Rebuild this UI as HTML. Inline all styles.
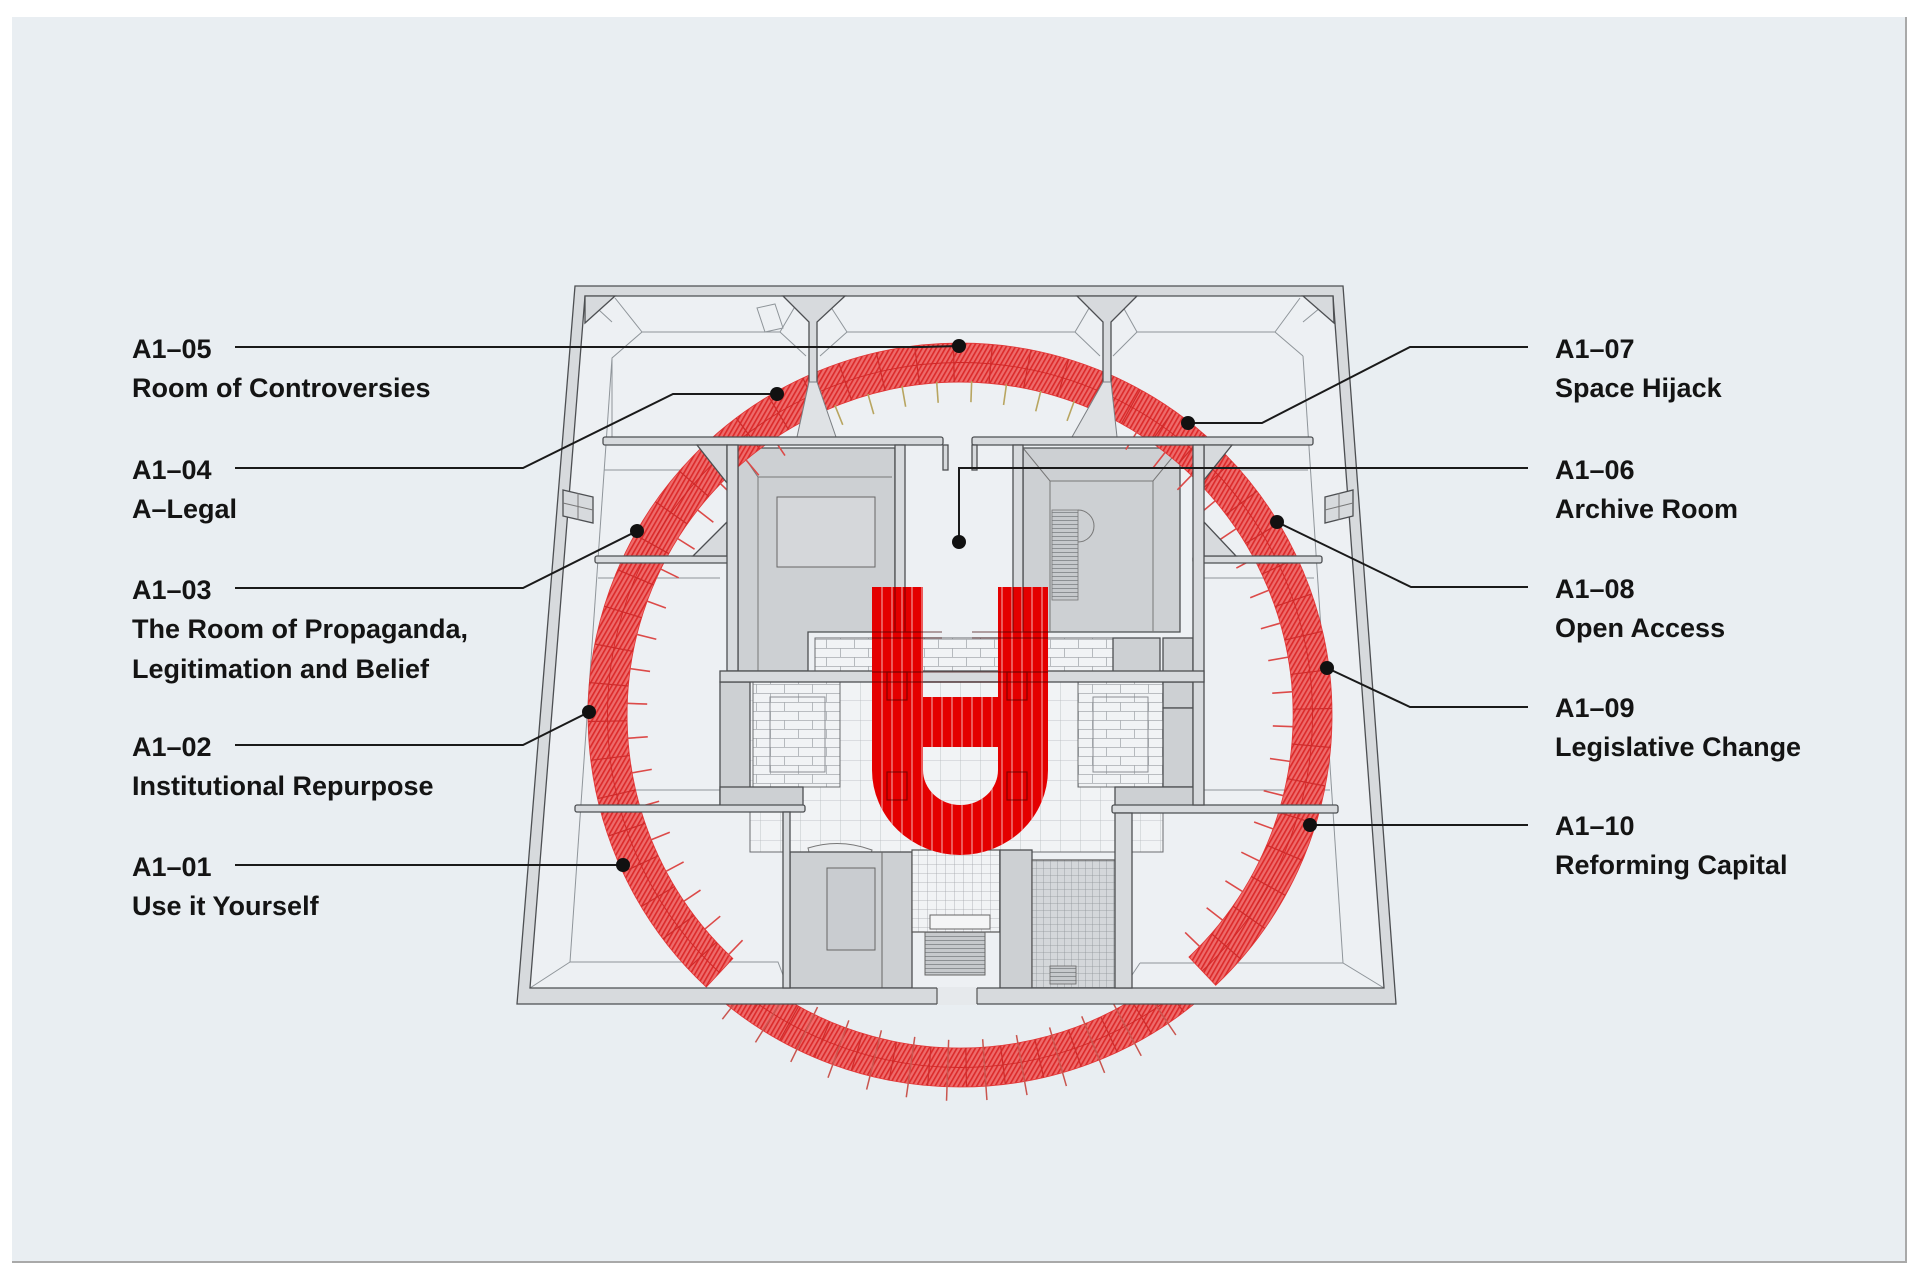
<!DOCTYPE html>
<html>
<head>
<meta charset="utf-8">
<style>
html,body{margin:0;padding:0;background:#fff;}
body{width:1920px;height:1280px;overflow:hidden;}
svg{display:block;}
.w{fill:#d7dadd;stroke:#4d4f52;stroke-width:1.3;}
.g{fill:#cdd0d3;stroke:#4d4f52;stroke-width:1.3;}
.t{fill:none;stroke:#8f959a;stroke-width:1;}
.lbl{font-family:"Liberation Sans",Arial,sans-serif;font-weight:bold;font-size:27px;fill:#141414;}
.cn{fill:none;stroke:#1a1a1a;stroke-width:2;}
</style>
</head>
<body>
<svg width="1920" height="1280" viewBox="0 0 1920 1280" xmlns="http://www.w3.org/2000/svg">
<defs>
  <pattern id="hatch" width="4" height="4" patternUnits="userSpaceOnUse" patternTransform="rotate(30)">
    <rect width="4" height="4" fill="#ee6b6b"/>
    <line x1="0.8" y1="0" x2="0.8" y2="4" stroke="#dc2a2a" stroke-width="1.7"/>
  </pattern>
  <pattern id="grid" width="9" height="9" patternUnits="userSpaceOnUse">
    <rect width="9" height="9" fill="#f1f3f5"/>
    <path d="M9 0 L0 0 0 9" fill="none" stroke="#a3a7ab" stroke-width="0.8"/>
  </pattern>
  <pattern id="grid2" width="7" height="7" patternUnits="userSpaceOnUse">
    <rect width="7" height="7" fill="#d4d7da"/>
    <path d="M7 0 L0 0 0 7" fill="none" stroke="#8f9498" stroke-width="0.8"/>
  </pattern>
  <pattern id="bigtile" width="20" height="20" patternUnits="userSpaceOnUse">
    <rect width="20" height="20" fill="#f1f3f5"/>
    <path d="M20 0 L0 0 0 20" fill="none" stroke="#b4b8bc" stroke-width="0.8"/>
  </pattern>
  <pattern id="brick" width="28" height="18" patternUnits="userSpaceOnUse">
    <rect width="28" height="18" fill="#f1f3f5"/>
    <path d="M0 0.5H28 M0 9.5H28 M0.5 0V9 M14.5 9V18" fill="none" stroke="#a8acb0" stroke-width="0.8"/>
  </pattern>
  <pattern id="stairs" width="10" height="4" patternUnits="userSpaceOnUse">
    <rect width="10" height="4" fill="#c6c9cc"/>
    <line x1="0" y1="0.5" x2="10" y2="0.5" stroke="#7d8185" stroke-width="0.8"/>
  </pattern>
  <clipPath id="ringclip">
    <path d="M706.3,987.1 A372,372 0 1 1 1215.7,985.3 L1188.9,957.0 A333,333 0 1 0 732.9,958.5 Z"/>
    <path d="M1195.5,1003 A372,372 0 0 1 724.5,1003 L792.8,1003 A333,333 0 0 0 1127.2,1003 Z"/>
  </clipPath>
  <clipPath id="botclip"><rect x="0" y="1003" width="1920" height="277"/></clipPath>
  <clipPath id="uclip">
    <path d="M872,587 V770 A88,85 0 0 0 1048,770 V587 H998 V770 A37.5,35 0 0 1 923,770 V587 Z"/>
    <rect x="923" y="697" width="75" height="50"/>
  </clipPath>
  <line id="tk" x1="313" y1="0" x2="334" y2="0"/>
  <line id="tb" x1="325" y1="0" x2="386" y2="0"/>
  <line id="sg" x1="333" y1="0" x2="372" y2="0"/>
</defs>

<!-- page -->
<rect width="1920" height="1280" fill="#ffffff"/>
<rect x="12" y="17" width="1894" height="1245" fill="#e9eef2"/>
<line x1="1906" y1="17" x2="1906" y2="1263" stroke="#a9a9a9" stroke-width="2"/>
<line x1="12" y1="1262" x2="1907" y2="1262" stroke="#a9a9a9" stroke-width="2"/>

<!-- building floor -->
<polygon points="575,286 1343,286 1396,1004 517,1004" fill="#edf0f3"/>

<!-- perspective thin lines -->
<g class="t">
  <path d="M612,437 V358 L642,332 H780 L806,356"/>
  <path d="M820,356 L847,332 H1075 L1100,356"/>
  <path d="M1113,356 L1137,332 H1275 L1303,356"/>
  <path d="M612,358 L570,962"/>
  <path d="M1303,356 L1343,963"/>
  <path d="M570,962 H778 L783,975 M570,962 L530,988"/>
  <path d="M1140,963 H1343 L1384,988 M1140,963 L1132,975"/>
  <path d="M604,470 H700 M1204,470 H1308"/>
  <path d="M598,578 H720 M1204,578 H1314"/>
  <path d="M586,298 L612,322 M1332,298 L1303,322"/>
  <path d="M757,308 L775,304 L783,328 L765,332 Z"/>
  <path d="M600,790 H720 M1204,790 H1330"/>
  <path d="M642,332 L615,298 M780,332 L800,298 M847,332 L825,298 M1075,332 L1095,298 M1137,332 L1118,298 M1275,332 L1300,298"/>
</g>

<!-- central light regions -->
<rect x="750" y="682" width="413" height="170" fill="url(#bigtile)" stroke="#6a6d70" stroke-width="1"/>
<rect x="753" y="682" width="87" height="105" fill="url(#brick)" stroke="#6a6d70" stroke-width="1"/>
<rect x="1078" y="682" width="85" height="105" fill="url(#brick)" stroke="#6a6d70" stroke-width="1"/>
<rect x="770" y="697" width="55" height="75" fill="none" stroke="#8a8e92" stroke-width="1"/>
<rect x="1093" y="697" width="55" height="75" fill="none" stroke="#8a8e92" stroke-width="1"/>
<rect x="815" y="638" width="298" height="33" fill="url(#brick)" stroke="#6a6d70" stroke-width="1"/>
<path d="M808,848 Q840,838 872,850 L868,864 Q840,855 812,864 Z" fill="#eceef0" stroke="#777" stroke-width="1"/>

<!-- gray blocks -->
<polygon class="g" points="738,448 895,448 895,632 808,632 808,671 738,671"/>
<path d="M738,448 L758,477 H892 M758,477 V671" class="t" style="stroke:#777"/>
<rect x="777" y="497" width="98" height="70" fill="#d5d7da" stroke="#666" stroke-width="1"/>
<polygon class="g" points="1023,448 1180,448 1180,632 1023,632"/>
<path d="M1023,448 L1050,481 H1153 L1180,448 M1050,481 V632 M1153,481 V632" class="t" style="stroke:#777"/>
<rect x="1052" y="510" width="26" height="90" fill="url(#stairs)" stroke="#777" stroke-width="0.8"/>
<path d="M1078,510 A16,16 0 0 1 1078,542" fill="none" stroke="#777" stroke-width="1"/>
<rect x="1113" y="638" width="47" height="34" class="g"/>
<rect x="1163" y="638" width="30" height="34" class="g"/>
<rect x="1163" y="682" width="30" height="26" class="g"/>
<rect x="1163" y="708" width="30" height="79" class="g"/>
<rect x="720" y="682" width="30" height="123" class="g"/>
<rect x="720" y="787" width="83" height="20" class="g"/>
<rect x="1115" y="787" width="85" height="20" class="g"/>

<!-- lower center -->
<rect x="790" y="852" width="122" height="136" class="g"/>
<rect x="827" y="868" width="48" height="82" fill="#c9ccd0" stroke="#666" stroke-width="1"/>
<path d="M882,852 V988" class="t" style="stroke:#666"/>
<rect x="912" y="850" width="88" height="82" fill="url(#grid)" stroke="#555" stroke-width="1.2"/>
<rect x="930" y="915" width="60" height="14" fill="#f4f5f6" stroke="#666" stroke-width="1"/>
<rect x="925" y="932" width="60" height="43" fill="url(#stairs)" stroke="#666" stroke-width="1"/>
<rect x="1000" y="850" width="32" height="138" class="g"/>
<rect x="1032" y="860" width="83" height="128" fill="url(#grid2)" stroke="#555" stroke-width="1.2"/>
<rect x="1050" y="966" width="26" height="18" fill="url(#stairs)" stroke="#666" stroke-width="0.8"/>

<!-- RING -->
<path d="M706.3,987.1 A372,372 0 1 1 1215.7,985.3 L1188.9,957.0 A333,333 0 1 0 732.9,958.5 Z" fill="url(#hatch)" stroke="#e03535" stroke-width="0.8"/>
<path d="M1195.5,1003 A372,372 0 0 1 724.5,1003 L792.8,1003 A333,333 0 0 0 1127.2,1003 Z" fill="url(#hatch)" stroke="#e03535" stroke-width="0.8"/>
<g clip-path="url(#ringclip)">
  <circle cx="960" cy="715" r="352.5" fill="none" stroke="#d02626" stroke-width="0.9"/>
  <g transform="translate(960,715)" stroke="#cf2a2a" stroke-width="1.2">
    <use href="#sg" transform="rotate(137)"/><use href="#sg" transform="rotate(143)"/><use href="#sg" transform="rotate(149)"/><use href="#sg" transform="rotate(155)"/><use href="#sg" transform="rotate(161)"/><use href="#sg" transform="rotate(167)"/><use href="#sg" transform="rotate(173)"/><use href="#sg" transform="rotate(179)"/><use href="#sg" transform="rotate(185)"/><use href="#sg" transform="rotate(191)"/><use href="#sg" transform="rotate(197)"/><use href="#sg" transform="rotate(203)"/><use href="#sg" transform="rotate(209)"/><use href="#sg" transform="rotate(215)"/><use href="#sg" transform="rotate(221)"/><use href="#sg" transform="rotate(227)"/><use href="#sg" transform="rotate(233)"/><use href="#sg" transform="rotate(239)"/><use href="#sg" transform="rotate(245)"/><use href="#sg" transform="rotate(251)"/><use href="#sg" transform="rotate(257)"/><use href="#sg" transform="rotate(263)"/><use href="#sg" transform="rotate(269)"/><use href="#sg" transform="rotate(275)"/><use href="#sg" transform="rotate(281)"/><use href="#sg" transform="rotate(287)"/><use href="#sg" transform="rotate(293)"/><use href="#sg" transform="rotate(299)"/><use href="#sg" transform="rotate(305)"/><use href="#sg" transform="rotate(311)"/><use href="#sg" transform="rotate(317)"/><use href="#sg" transform="rotate(323)"/><use href="#sg" transform="rotate(329)"/><use href="#sg" transform="rotate(335)"/><use href="#sg" transform="rotate(341)"/><use href="#sg" transform="rotate(347)"/><use href="#sg" transform="rotate(353)"/><use href="#sg" transform="rotate(359)"/><use href="#sg" transform="rotate(365)"/><use href="#sg" transform="rotate(371)"/><use href="#sg" transform="rotate(377)"/><use href="#sg" transform="rotate(383)"/><use href="#sg" transform="rotate(389)"/><use href="#sg" transform="rotate(395)"/><use href="#sg" transform="rotate(401)"/>
    <use href="#sg" transform="rotate(53)"/><use href="#sg" transform="rotate(59)"/><use href="#sg" transform="rotate(65)"/><use href="#sg" transform="rotate(71)"/><use href="#sg" transform="rotate(77)"/><use href="#sg" transform="rotate(83)"/><use href="#sg" transform="rotate(89)"/><use href="#sg" transform="rotate(95)"/><use href="#sg" transform="rotate(101)"/><use href="#sg" transform="rotate(107)"/><use href="#sg" transform="rotate(113)"/><use href="#sg" transform="rotate(119)"/><use href="#sg" transform="rotate(125)"/>
  </g>
</g>
<!-- inner ticks -->
<g transform="translate(960,715)" stroke="#dc4a48" stroke-width="1.6">
  <use href="#tk" transform="rotate(134)"/><use href="#tk" transform="rotate(140)"/><use href="#tk" transform="rotate(146)"/><use href="#tk" transform="rotate(152)"/><use href="#tk" transform="rotate(158)"/><use href="#tk" transform="rotate(164)"/><use href="#tk" transform="rotate(170)"/><use href="#tk" transform="rotate(176)"/><use href="#tk" transform="rotate(182)"/><use href="#tk" transform="rotate(188)"/><use href="#tk" transform="rotate(194)"/><use href="#tk" transform="rotate(200)"/><use href="#tk" transform="rotate(206)"/><use href="#tk" transform="rotate(212)"/><use href="#tk" transform="rotate(218)"/><use href="#tk" transform="rotate(224)"/><use href="#tk" transform="rotate(230)"/><use href="#tk" transform="rotate(236)"/>
  <g stroke="#b8a560">
  <use href="#tk" transform="rotate(242)"/><use href="#tk" transform="rotate(248)"/><use href="#tk" transform="rotate(254)"/><use href="#tk" transform="rotate(260)"/><use href="#tk" transform="rotate(266)"/><use href="#tk" transform="rotate(272)"/><use href="#tk" transform="rotate(278)"/><use href="#tk" transform="rotate(284)"/><use href="#tk" transform="rotate(290)"/><use href="#tk" transform="rotate(296)"/>
  </g>
  <use href="#tk" transform="rotate(302)"/><use href="#tk" transform="rotate(308)"/><use href="#tk" transform="rotate(314)"/><use href="#tk" transform="rotate(320)"/><use href="#tk" transform="rotate(326)"/><use href="#tk" transform="rotate(332)"/><use href="#tk" transform="rotate(338)"/><use href="#tk" transform="rotate(344)"/><use href="#tk" transform="rotate(350)"/><use href="#tk" transform="rotate(356)"/><use href="#tk" transform="rotate(362)"/><use href="#tk" transform="rotate(368)"/><use href="#tk" transform="rotate(374)"/><use href="#tk" transform="rotate(380)"/><use href="#tk" transform="rotate(386)"/><use href="#tk" transform="rotate(392)"/><use href="#tk" transform="rotate(398)"/><use href="#tk" transform="rotate(404)"/>
</g>
<!-- bottom ticks -->
<g clip-path="url(#botclip)">
<g transform="translate(960,715)" stroke="#c9554f" stroke-width="1.5">
  <use href="#tb" transform="rotate(56)"/><use href="#tb" transform="rotate(62)"/><use href="#tb" transform="rotate(68)"/><use href="#tb" transform="rotate(74)"/><use href="#tb" transform="rotate(80)"/><use href="#tb" transform="rotate(86)"/><use href="#tb" transform="rotate(92)"/><use href="#tb" transform="rotate(98)"/><use href="#tb" transform="rotate(104)"/><use href="#tb" transform="rotate(110)"/><use href="#tb" transform="rotate(116)"/><use href="#tb" transform="rotate(122)"/><use href="#tb" transform="rotate(128)"/>
</g>
</g>

<!-- WALLS (over ring) -->
<path class="w" fill-rule="evenodd" d="M575,286 L1343,286 L1396,1004 L517,1004 Z M585,296 L530,988 L1384,988 L1333,296 Z"/>
<rect x="937" y="987" width="40" height="18" fill="#e6e9ec"/>
<path d="M937,988 V1004 M977,988 V1004" stroke="#555" stroke-width="1.2"/>
<polygon class="w" points="585,296 615,296 585,323"/>
<polygon class="w" points="1333,296 1303,296 1334,323"/>
<!-- top vertical walls -->
<polygon class="w" points="783,296 845,296 817,322 817,437 809,437 809,322"/>
<polygon points="809,382 817,382 836,437 797,437" fill="#dfe2e5" stroke="#7a7e82" stroke-width="1"/>
<polygon class="w" points="1077,296 1137,296 1111,322 1111,437 1103,437 1103,322"/>
<polygon points="1103,382 1111,382 1117,437 1072,437" fill="#dfe2e5" stroke="#7a7e82" stroke-width="1"/>
<!-- horizontal walls -->
<rect class="w" x="603" y="437" width="340" height="8" rx="2"/>
<rect class="w" x="972" y="437" width="341" height="8" rx="2"/>
<rect class="w" x="595" y="556" width="135" height="7" rx="2"/>
<rect class="w" x="1193" y="556" width="129" height="7" rx="2"/>
<rect class="w" x="575" y="805" width="230" height="7" rx="2"/>
<rect class="w" x="1112" y="805" width="226" height="8" rx="2"/>
<!-- wedges -->
<polygon class="w" points="697,445 727,445 727,483"/>
<polygon class="w" points="1204,445 1232,445 1204,480"/>
<polygon class="w" points="693,556 727,556 727,522"/>
<polygon class="w" points="1204,522 1204,556 1236,556"/>
<!-- vertical strips -->
<rect class="w" x="727" y="445" width="11" height="226"/>
<rect class="w" x="1193" y="445" width="11" height="360"/>
<rect class="w" x="895" y="445" width="10" height="187"/>
<rect class="w" x="1013" y="445" width="10" height="187"/>
<rect class="w" x="943" y="445" width="5" height="25"/>
<rect class="w" x="972" y="445" width="5" height="25"/>
<rect class="w" x="720" y="671" width="484" height="11"/>
<rect class="w" x="783" y="812" width="7" height="176"/>
<rect class="w" x="1115" y="813" width="17" height="175"/>
<!-- windows -->
<polygon class="w" points="563,490 593,497 593,523 563,516"/>
<path d="M578,493 V520 M563,503 L593,510" stroke="#777" stroke-width="1" fill="none"/>
<polygon class="w" points="1325,497 1353,490 1353,516 1325,523"/>
<path d="M1339,493 V520 M1325,510 L1353,503" stroke="#777" stroke-width="1" fill="none"/>

<!-- U shape -->
<path d="M872,587 V770 A88,85 0 0 0 1048,770 V587 H998 V770 A37.5,35 0 0 1 923,770 V587 Z" fill="#e40000"/>
<rect x="923" y="697" width="75" height="50" fill="#e40000"/>
<g clip-path="url(#uclip)" stroke="#f29a9a" stroke-width="1.4" opacity="0.85">
  <path d="M882,580V870 M892,580V870 M902,580V870 M912,580V870 M922,580V870 M932,580V870 M942,580V870 M952,580V870 M962,580V870 M972,580V870 M982,580V870 M992,580V870 M1002,580V870 M1012,580V870 M1022,580V870 M1032,580V870 M1042,580V870"/>
</g>
<g fill="none" stroke="#3a0000" stroke-width="1.2" opacity="0.55">
  <path d="M872,632 H942 M872,638 H942 M972,632 H1048 M972,638 H1048"/>
  <path d="M895,587 V632 M905,587 V632 M1013,587 V632 M1023,587 V632"/>
  <path d="M872,672 H1048 M872,682 H1048"/>
  <rect x="887" y="672" width="20" height="28"/>
  <rect x="1007" y="672" width="20" height="28"/>
  <rect x="887" y="772" width="20" height="28"/>
  <rect x="1007" y="772" width="20" height="28"/>
</g>

<!-- connectors -->
<g class="cn">
  <path d="M235,347 H922 L959,346"/>
  <path d="M235,468 H523 L673,394 H777"/>
  <path d="M235,588 H523 L637,531"/>
  <path d="M235,745 H523 L589,712"/>
  <path d="M235,865 H623"/>
  <path d="M1528,347 H1410 L1262,423 H1188"/>
  <path d="M1528,468 H959 V542"/>
  <path d="M1528,587 H1411 L1277,522"/>
  <path d="M1528,707 H1410 L1327,668"/>
  <path d="M1528,825 H1310"/>
</g>
<g fill="#111">
  <circle cx="959" cy="346" r="7"/>
  <circle cx="777" cy="394" r="7"/>
  <circle cx="637" cy="531" r="7"/>
  <circle cx="589" cy="712" r="7"/>
  <circle cx="623" cy="865" r="7"/>
  <circle cx="1188" cy="423" r="7"/>
  <circle cx="959" cy="542" r="7"/>
  <circle cx="1277" cy="522" r="7"/>
  <circle cx="1327" cy="668" r="7"/>
  <circle cx="1310" cy="825" r="7"/>
</g>

<!-- labels left -->
<text class="lbl" x="132" y="358">A1–05</text>
<text class="lbl" x="132" y="397">Room of Controversies</text>
<text class="lbl" x="132" y="479">A1–04</text>
<text class="lbl" x="132" y="518">A–Legal</text>
<text class="lbl" x="132" y="599">A1–03</text>
<text class="lbl" x="132" y="638">The Room of Propaganda,</text>
<text class="lbl" x="132" y="678">Legitimation and Belief</text>
<text class="lbl" x="132" y="756">A1–02</text>
<text class="lbl" x="132" y="795">Institutional Repurpose</text>
<text class="lbl" x="132" y="876">A1–01</text>
<text class="lbl" x="132" y="915">Use it Yourself</text>

<!-- labels right -->
<text class="lbl" x="1555" y="358">A1–07</text>
<text class="lbl" x="1555" y="397">Space Hijack</text>
<text class="lbl" x="1555" y="479">A1–06</text>
<text class="lbl" x="1555" y="518">Archive Room</text>
<text class="lbl" x="1555" y="598">A1–08</text>
<text class="lbl" x="1555" y="637">Open Access</text>
<text class="lbl" x="1555" y="717">A1–09</text>
<text class="lbl" x="1555" y="756">Legislative Change</text>
<text class="lbl" x="1555" y="835">A1–10</text>
<text class="lbl" x="1555" y="874">Reforming Capital</text>
</svg>
</body>
</html>
